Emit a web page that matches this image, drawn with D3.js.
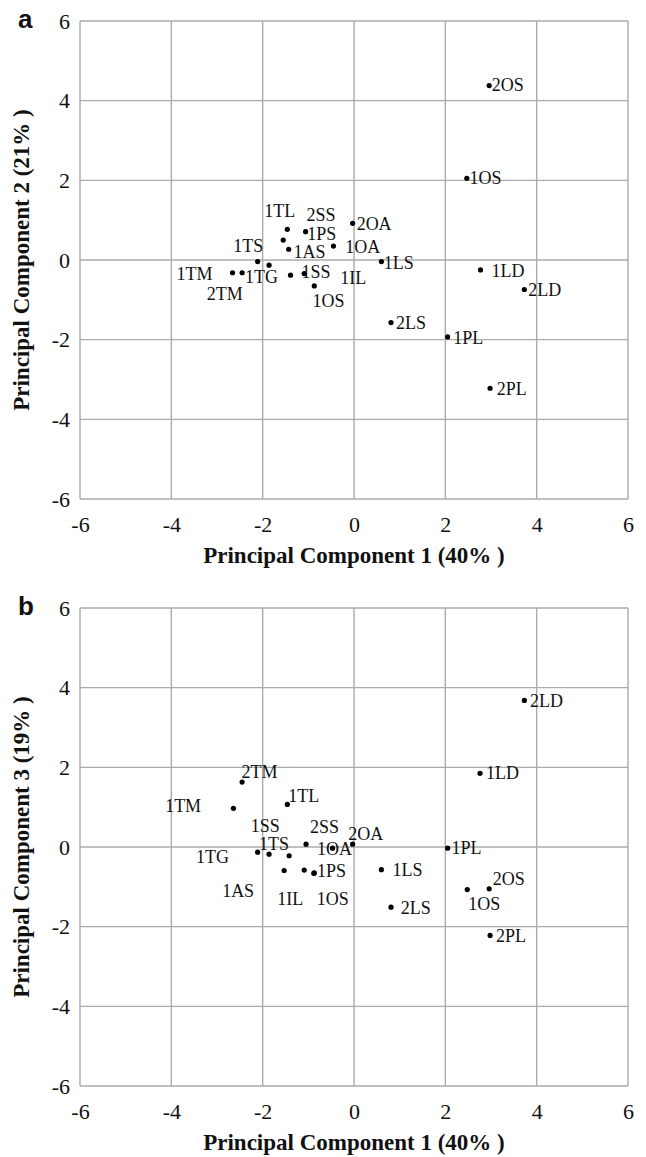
<!DOCTYPE html>
<html>
<head>
<meta charset="utf-8">
<script src="https://cdn.jsdelivr.net/npm/d3@7"></script>
<style>
  body { margin: 0; background: #fff; }
  svg { display: block; }
  text { font-family: "Liberation Serif", "Times New Roman", serif; fill: #111; }
</style>
</head>
<body>
<div id="chart"></div>
<script>
// sample names (same order in both panels)
const sampleNames = ["1TL", "2SS", "1PS", "1AS", "1OA", "2OA", "1LS", "1TG", "1TS", "1TM", "2TM",
                     "1SS", "1IL", "1OS", "2OS", "1OS", "1LD", "2LD", "2LS", "1PL", "2PL"];

// panel a : PC1 vs PC2
const pc1A = [-1.46, -1.55, -1.06, -1.43, -0.45, -0.03, 0.60, -2.11, -1.86, -2.66, -2.45,
              -1.39, -1.09, -0.87, 2.96, 2.47, 2.77, 3.73, 0.81, 2.05, 2.98];
const pc2A = [0.77, 0.50, 0.71, 0.27, 0.35, 0.92, -0.04, -0.04, -0.13, -0.32, -0.32,
              -0.38, -0.34, -0.65, 4.38, 2.05, -0.25, -0.74, -1.57, -1.93, -3.22];

// panel b : PC1 vs PC3
const pc1B = [-1.46, -1.05, -0.87, -1.53, -0.47, -0.03, 0.60, -2.11, -1.86, -2.64, -2.45,
              -1.42, -1.09, -0.88, 2.96, 2.48, 2.76, 3.73, 0.81, 2.05, 2.98];
const pc3B = [1.07, 0.07, -0.65, -0.59, -0.03, 0.07, -0.57, -0.13, -0.18, 0.97, 1.63,
              -0.22, -0.58, -0.66, -1.05, -1.07, 1.85, 3.68, -1.51, -0.03, -2.22];

const axisTicks = [-6, -4, -2, 0, 2, 4, 6];
const xTitle = "Principal Component 1 (40% )";
const yTitleA = "Principal Component 2 (21% )";
const yTitleB = "Principal Component 3 (19% )";

// label placement (pixel offsets from the point, layout only)
const labelOffsetsA = [[-23, -12.7], [23.3, -19.3], [1.7, 8.3], [4.7, 9], [11.7, 6.7], [4, 6.7], [2.3, 7.7],
                       [-12.7, 21.7], [-35.7, -12.7], [-56, 7.3], [-35.3, 27.3], [11, 3.3], [36, 10], [-1.7, 21],
                       [2.7, 5.3], [2.7, 6], [11, 6.7], [4, 6.7], [5, 6.7], [5.7, 7.3], [6.7, 6.7]];
const labelOffsetsB = [[1, -2.7], [4, -11.3], [2.7, 4.3], [-62, 26.3], [-15.6, 6.7], [-4.4, -4.3], [11, 6.7],
                       [-61.7, 10.7], [-10, -4.5], [-68.3, 3.4], [-0.6, -4.4], [-38.3, -24], [-27, 35], [3, 32],
                       [3.7, -4.3], [1, 20], [6, 5.3], [5.7, 6.7], [9.7, 6.7], [4, 5.7], [6, 6.7]];

const W = 646, H = 1157;
const svg = d3.select("#chart").append("svg")
    .attr("width", W)
    .attr("height", H);

function drawPanel(letter, top, xs, ys, offsets, yTitle) {
    const left = 80, width = 548, height = 478;
    const g = svg.append("g").attr("transform", `translate(${left},${top})`);

    const x = d3.scaleLinear().domain([-6, 6]).range([0, width]);
    const y = d3.scaleLinear().domain([-6, 6]).range([height, 0]);

    //grid lines
    g.selectAll(".vgrid").data(axisTicks).enter().append("line")
        .attr("x1", d => x(d)).attr("x2", d => x(d))
        .attr("y1", 0).attr("y2", height)
        .attr("stroke", "#ababab").attr("stroke-width", 1.4);
    g.selectAll(".hgrid").data(axisTicks).enter().append("line")
        .attr("x1", 0).attr("x2", width)
        .attr("y1", d => y(d)).attr("y2", d => y(d))
        .attr("stroke", "#ababab").attr("stroke-width", 1.4);

    //axes, only the tick labels are visible (plain hyphen as in the original)
    const fmt = d => String(d);
    const xAxis = g.append("g")
        .attr("transform", `translate(0,${height})`)
        .call(d3.axisBottom(x).tickValues(axisTicks).tickFormat(fmt).tickSize(0).tickPadding(17));
    const yAxis = g.append("g")
        .call(d3.axisLeft(y).tickValues(axisTicks).tickFormat(fmt).tickSize(0).tickPadding(10));
    [xAxis, yAxis].forEach(a => {
        a.attr("font-family", "'Liberation Serif', 'Times New Roman', serif").attr("font-size", 22);
        a.select(".domain").remove();
        a.selectAll("text").attr("fill", "#111");
    });

    //points and their labels
    const pts = sampleNames.map((n, i) => ({name: n, x: xs[i], y: ys[i], off: offsets[i]}));
    g.selectAll(".pt").data(pts).enter().append("circle")
        .attr("cx", d => x(d.x))
        .attr("cy", d => y(d.y))
        .attr("r", 2.6)
        .attr("fill", "#000");
    g.selectAll(".lbl").data(pts).enter().append("text")
        .attr("x", d => x(d.x) + d.off[0])
        .attr("y", d => y(d.y) + d.off[1])
        .style("font-size", "18px")
        .text(d => d.name);

    //axis titles
    g.append("text")
        .attr("x", width / 2)
        .attr("y", height + 64)
        .attr("text-anchor", "middle")
        .style("font-size", "23px")
        .style("font-weight", "bold")
        .text(xTitle);
    g.append("text")
        .attr("transform", `translate(${29 - left},${height / 2}) rotate(-90)`)
        .attr("text-anchor", "middle")
        .style("font-size", "23px")
        .style("font-weight", "bold")
        .text(yTitle);

    //panel letter
    g.append("text")
        .attr("x", 18 - left)
        .attr("y", 7)
        .style("font-family", "'Liberation Sans', Arial, sans-serif")
        .style("font-size", "26px")
        .style("font-weight", "bold")
        .text(letter);
}

drawPanel("a", 21, pc1A, pc2A, labelOffsetsA, yTitleA);
drawPanel("b", 608, pc1B, pc3B, labelOffsetsB, yTitleB);
</script>
</body>
</html>
